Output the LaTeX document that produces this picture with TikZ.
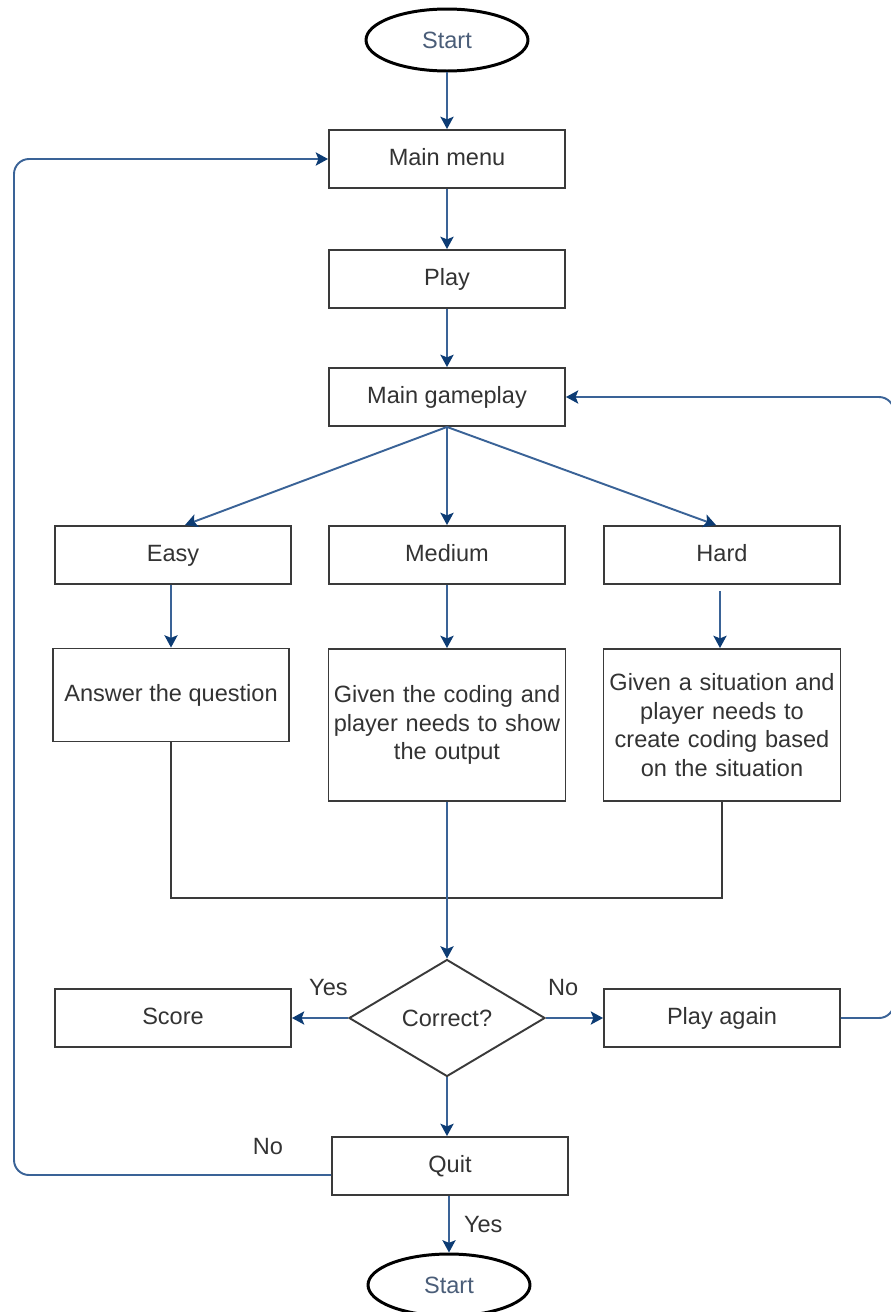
\documentclass[tikz,border=0pt]{standalone}
\usepackage{fontspec}
\setmainfont{Liberation Sans}
\usepackage{tikz}
\usetikzlibrary{arrows.meta, calc, positioning, shapes.geometric}
\usepackage{xcolor}
\definecolor{mLine}{HTML}{3A6397}
\definecolor{mNavy}{HTML}{0D3C74}
\definecolor{mText}{HTML}{333333}
\definecolor{mBox}{HTML}{3A3A3A}
\definecolor{mStart}{HTML}{4A5D78}

\begin{document}
\begin{tikzpicture}[x=0.02cm, y=-0.02cm,
  font=\fontsize{13.4}{16.2}\selectfont,
  box/.style={draw=mBox, line width=1.1pt, text=mText, fill=white, inner sep=2pt,
              minimum width=4.72cm, minimum height=1.16cm, align=center,
              text height=0.72em, text depth=0pt},
  tallbox/.style={box, minimum height=3.04cm, text width=4.6cm, text height=, text depth=},
  terminal/.style={ellipse, draw=black, line width=1.7pt, text=mStart, inner sep=0pt,
                   minimum width=3.24cm, minimum height=1.24cm},
  decision/.style={diamond, draw=mBox, line width=1.1pt, text=mText, inner sep=0pt,
                   aspect=1.675, minimum width=3.92cm, minimum height=2.34cm},
  flow/.style={draw=mLine, line width=1.1pt, -{Stealth[length=7pt, width=7.5pt, inset=1.5pt, color=mNavy]}},
  loop/.style={flow, rounded corners=0.3cm},
  mergeline/.style={draw=mBox, line width=1.1pt},
  lbl/.style={text=mText, inner sep=0pt}]
  \useasboundingbox (0,0) rectangle (891,1312);
  % main column
  \node[terminal] (start) at (447,40) {Start};
  \node[box] (menu) at (447,159) {Main menu};
  \node[box] (play) at (447,279) {Play};
  \node[box] (gameplay) at (447,397) {Main gameplay};
  % levels
  \node[box] (easy) at (173,555) {Easy};
  \node[box] (medium) at (447,555) {Medium};
  \node[box] (hard) at (722,555) {Hard};
  \node[box, minimum height=1.86cm] (answer) at (171,695) {Answer the question};
  \node[tallbox] (given) at (447,725) {Given the coding and\\player needs to show\\the output};
  \node[tallbox] (situation) at (722,725) {Given a situation and\\player needs to\\create coding based\\on the situation};
  % check and results
  \node[decision] (correct) at (447,1018) {Correct?};
  \node[box] (score) at (173,1018) {Score};
  \node[box] (again) at (722,1018) {Play again};
  \node[box] (quit) at (450,1166) {Quit};
  \node[terminal] (stop) at (449,1285) {Start};
  \coordinate (join) at (447,898);
  \coordinate (rightA) at (894,1018);
  \coordinate (leftA) at (14,1175);
  % connectors
  \draw[flow] (start) -- (menu);
  \draw[flow] (menu) -- (play);
  \draw[flow] (play) -- (gameplay);
  \draw[flow] (gameplay.south) -- ($(easy.north)+(12,0)$);
  \draw[flow] (gameplay.south) -- (medium.north);
  \draw[flow] (gameplay.south) -- ($(hard.north)+(-6,0)$);
  \draw[flow] (easy.south -| answer) -- (answer.north);
  \draw[flow] (medium) -- (given);
  \draw[flow] ($(hard.south)+(-2,6)$) -- ($(situation.north)+(-2,0)$);
  \draw[mergeline] (answer.south) |- (join) -| (situation.south);
  \draw[flow] (given.south) -- (correct.north);
  \draw[flow] (correct.west) -- node[lbl, pos=0.35, above=12pt] {Yes} (correct.west -| score.east);
  \draw[flow] (correct.east) -- node[lbl, pos=0.3, above=12pt] {No} (correct.east -| again.west);
  \draw[flow] (correct.south) -- (quit.north -| correct.south);
  \draw[flow] (quit.south -| stop.north) -- node[lbl, right=8pt] {Yes} (stop.north);
  % loops back
  \draw[loop] (again.east) -- (rightA) |- (gameplay.east);
  \draw[loop] ($(quit.west)+(0,9)$) -- (leftA) |- (menu.west);
  \node[lbl] (no2) at (268,1147) {No};
\end{tikzpicture}
\end{document}
